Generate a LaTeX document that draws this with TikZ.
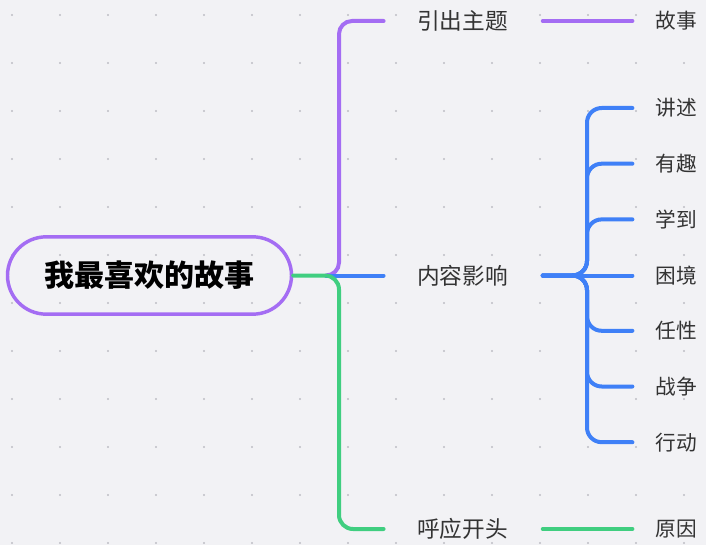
\documentclass[tikz,border=0pt]{standalone}
\usepackage{fontspec}
\setmainfont{Noto Sans CJK SC}
\definecolor{bgc}{HTML}{F2F2F5}
\definecolor{dotc}{HTML}{BEBEC4}
\definecolor{pur}{HTML}{A46DF3}
\definecolor{blu}{HTML}{3F80F7}
\definecolor{grn}{HTML}{40CE80}
\definecolor{txt}{HTML}{333333}
\begin{document}
\begin{tikzpicture}[x=0.75pt,y=-0.75pt,
  conn/.style={line width=3pt,line cap=round},
  lvl1/.style={font=\fontsize{17pt}{20pt}\selectfont,text=txt,fill=bgc,inner sep=1pt},
  leaf/.style={font=\fontsize{15.5pt}{18pt}\selectfont,text=txt,fill=bgc,inner sep=1pt},
  rootbox/.style={draw=pur,line width=2.6pt,rounded corners=29pt,minimum width=213pt,minimum height=58pt,font=\bfseries\fontsize{22.5pt}{25pt}\selectfont,text=black}]
\fill[bgc] (0,0) rectangle (706,545);
\useasboundingbox (0,0) rectangle (706,545);
\foreach \i in {0,...,14}{\foreach \j in {0,...,11}{\fill[dotc] (12+48*\i,15+48*\j) circle (1.1);}}
% root
\node[rootbox] (root) at (149.5,275.5) {我最喜欢的故事};
% level 1
\node[lvl1] (t1) at (462.5,21) {引出主题};
\node[lvl1] (t2) at (462.5,275.5) {内容影响};
\node[lvl1] (t3) at (462.5,529) {呼应开头};
% leaves
\node[leaf] (c1) at (676,21) {故事};
\node[leaf] (c3) at (676,529) {原因};
\foreach \n/\t/\y in {1/讲述/108,2/有趣/163.7,3/学到/219.4,4/困境/275.5,5/任性/330.8,6/战争/386.5,7/行动/442.2}{
  \node[leaf] (b\n) at (676,\y) {\t};
  \coordinate (v\n) at (587,\y);
}
% connector coordinates
\coordinate (jp) at (326,275.5);
\coordinate (p1) at (339,21);
\coordinate (g1) at (339,529);
% level-1 connectors
\draw[conn,pur,rounded corners=9.75pt] (jp) -| (p1) -- ([xshift=-24pt]t1.west);
\draw[conn,blu] (jp) -- ([xshift=-24pt]t2.west);
\draw[conn,grn,rounded corners=10.5pt] (root.east) -| (g1) -- ([xshift=-24pt]t3.west);
% level-2 connectors
\draw[conn,pur] ([xshift=25pt]t1.east) -- ([xshift=-16pt]c1.west);
\draw[conn,grn] ([xshift=25pt]t3.east) -- ([xshift=-16pt]c3.west);
\foreach \n in {1,2,3,5,6,7}{
  \draw[conn,blu,rounded corners=11pt] ([xshift=25pt]t2.east) -| (v\n) -- ([xshift=-16pt]b\n.west);
}
\draw[conn,blu] ([xshift=25pt]t2.east) -- ([xshift=-16pt]b4.west);
\end{tikzpicture}
\end{document}
